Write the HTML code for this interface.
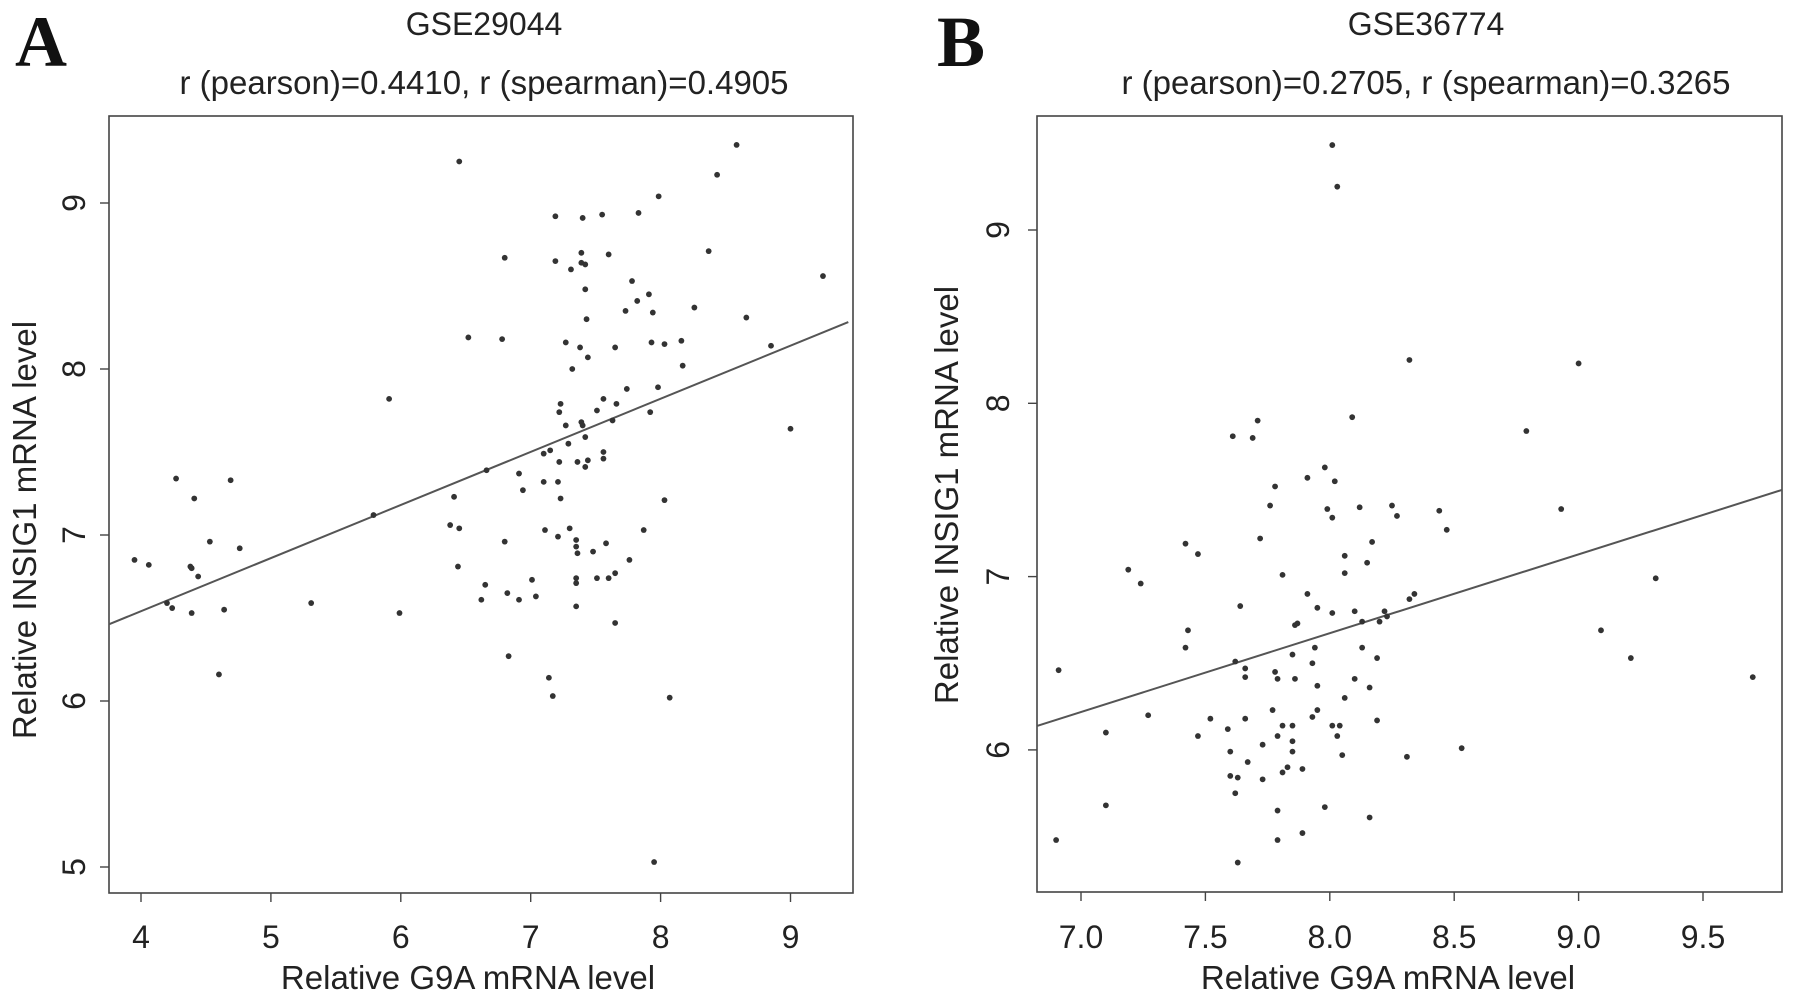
<!DOCTYPE html>
<html><head><meta charset="utf-8"><style>
html,body{margin:0;padding:0;background:#fff;}
svg{display:block;font-family:"Liberation Sans",sans-serif;}
</style></head><body>
<svg id="fig" width="1795" height="1003" viewBox="0 0 1795 1003"></svg>
<script>
// Panel A data (GSE29044)
const aX = [6.45,8.585,8.435,7.985,7.19,7.55,7.40,7.83,8.37,7.60,7.39,7.39,7.42,6.80,7.19,7.31,9.25,7.78,7.42,7.91,7.82,7.94,7.73,8.26,7.43,8.66,6.52,6.78,7.27,7.93,8.03,8.16,7.38,7.65,7.44,8.85,8.17,7.32,7.98,7.74,5.91,7.56,7.66,7.23,7.22,7.51,7.92,7.63,7.39,7.40,7.27,9.00,7.42,7.29,7.15,7.10,7.56,7.56,7.22,7.36,7.44,7.42,6.66,6.91,4.27,4.69,7.10,7.21,6.94,4.41,7.23,6.41,8.03,5.79,6.38,6.45,7.30,7.11,7.87,7.21,7.35,7.35,7.58,4.53,6.80,7.48,4.76,7.36,3.95,4.06,7.76,4.38,4.39,6.44,4.44,7.65,7.51,7.60,7.01,7.35,7.35,6.65,7.04,6.62,6.82,6.91,5.31,4.20,4.24,7.35,4.64,4.39,5.99,7.65,6.83,4.60,7.14,7.17,8.07,7.95];
const aY = [9.25,9.35,9.17,9.04,8.92,8.93,8.91,8.94,8.71,8.69,8.70,8.64,8.63,8.67,8.65,8.60,8.56,8.53,8.48,8.45,8.41,8.34,8.35,8.37,8.30,8.31,8.19,8.18,8.16,8.16,8.15,8.17,8.13,8.13,8.07,8.14,8.02,8.00,7.89,7.88,7.82,7.82,7.79,7.79,7.74,7.75,7.74,7.69,7.68,7.66,7.66,7.64,7.59,7.55,7.51,7.49,7.50,7.46,7.44,7.44,7.45,7.41,7.39,7.37,7.34,7.33,7.32,7.32,7.27,7.22,7.22,7.23,7.21,7.12,7.06,7.04,7.04,7.03,7.03,6.99,6.97,6.93,6.95,6.96,6.96,6.90,6.92,6.89,6.85,6.82,6.85,6.81,6.80,6.81,6.75,6.77,6.74,6.74,6.73,6.74,6.71,6.70,6.63,6.61,6.65,6.61,6.59,6.59,6.56,6.57,6.55,6.53,6.53,6.47,6.27,6.16,6.14,6.03,6.02,5.03];
const aXTicks = [4,5,6,7,8,9];
const aYTicks = [5,6,7,8,9];
const aFit = [[3.753,6.462],[9.445,8.283]];
// Panel B data (GSE36774)
const bX = [8.01,8.03,8.32,9.00,8.09,7.71,7.61,7.69,8.79,7.98,7.91,8.02,7.78,7.76,7.99,8.12,8.25,8.44,8.93,8.01,8.27,8.47,7.72,8.17,7.42,7.47,8.06,8.15,7.19,8.06,7.81,9.31,7.24,7.91,8.34,8.32,7.64,7.95,8.01,8.10,8.22,8.23,7.87,7.86,8.13,8.20,7.43,9.09,7.42,7.94,8.13,9.21,7.85,8.19,7.62,7.93,6.91,7.66,7.78,7.66,7.79,7.86,9.70,8.10,7.95,8.16,8.06,7.27,7.77,7.95,7.93,7.52,7.66,8.19,7.10,7.59,7.81,7.85,8.01,8.04,7.47,7.79,8.03,7.85,7.73,7.60,8.53,7.85,8.05,8.31,7.67,7.83,7.89,7.81,7.60,7.63,7.73,7.62,7.10,7.98,7.79,8.16,7.89,6.90,7.79,7.63];
const bY = [9.49,9.25,8.25,8.23,7.92,7.90,7.81,7.80,7.84,7.63,7.57,7.55,7.52,7.41,7.39,7.40,7.41,7.38,7.39,7.34,7.35,7.27,7.22,7.20,7.19,7.13,7.12,7.08,7.04,7.02,7.01,6.99,6.96,6.90,6.90,6.87,6.83,6.82,6.79,6.80,6.80,6.77,6.73,6.72,6.74,6.74,6.69,6.69,6.59,6.59,6.59,6.53,6.55,6.53,6.51,6.50,6.46,6.47,6.45,6.42,6.41,6.41,6.42,6.41,6.37,6.36,6.30,6.20,6.23,6.23,6.19,6.18,6.18,6.17,6.10,6.12,6.14,6.14,6.14,6.14,6.08,6.08,6.08,6.05,6.03,5.99,6.01,5.99,5.97,5.96,5.93,5.90,5.89,5.87,5.85,5.84,5.83,5.75,5.68,5.67,5.65,5.61,5.52,5.48,5.48,5.35];
const bXTicks = [7.0,7.5,8.0,8.5,9.0,9.5];
const bYTicks = [6,7,8,9];
const bFit = [[6.825,6.139],[9.817,7.50]];

const NS = "http://www.w3.org/2000/svg";
const svg = document.getElementById('fig');
function mk(tag, attrs, parent, text){
  const e = document.createElementNS(NS, tag);
  for (const k in attrs) e.setAttribute(k, attrs[k]);
  if (text !== undefined) e.textContent = text;
  (parent || svg).appendChild(e);
  return e;
}
function panel(cfg){
  const g = mk('g', {});
  
  
  const sx = v => cfg.x0 + (v - cfg.xv0) * cfg.xs;
  const sy = v => cfg.y0 + (cfg.yv0 - v) * cfg.ys;
  const L = mk('text', {x: cfg.letterX, y: 66, 'font-family': '"Liberation Serif",serif', 'font-weight': 'bold', 'font-size': 72, fill: '#111'}, g, cfg.letter);
  
  
  const t1 = mk('text', {x: cfg.tcx, y: 35, 'text-anchor': 'middle', 'font-size': 32, fill: '#222'}, g, cfg.title);
  
  
  const t2 = mk('text', {x: cfg.tcx, y: 94, 'text-anchor': 'middle', 'font-size': 33, fill: '#222'}, g, cfg.sub);
  
  
  const box = mk('rect', {x: cfg.bx0, y: 116, width: cfg.bx1 - cfg.bx0, height: cfg.by1 - 116, fill: 'none', stroke: '#444', 'stroke-width': 1.6}, g);
  
  
  cfg.xt.forEach(v => {
    const x = sx(v);
    mk('line', {x1: x, x2: x, y1: cfg.by1, y2: cfg.by1 + 9, stroke: '#444', 'stroke-width': 1.4}, g);
    const tl = mk('text', {x: x, y: 948, 'text-anchor': 'middle', 'font-size': 32, fill: '#222'}, g, cfg.fmt(v));
    
    
  });
  cfg.yt.forEach(v => {
    const y = sy(v);
    mk('line', {x1: cfg.bx0 - 9, x2: cfg.bx0, y1: y, y2: y, stroke: '#444', 'stroke-width': 1.4}, g);
    const tl = mk('text', {x: cfg.ytx, y: y, 'text-anchor': 'middle', 'font-size': 32, fill: '#222', transform: `rotate(-90 ${cfg.ytx} ${y})`}, g, String(v));
    
    
  });
  const xl = mk('text', {x: cfg.xlx, y: 989, 'text-anchor': 'middle', 'font-size': 33, fill: '#222'}, g, 'Relative G9A mRNA level');
  
  
  const cy = cfg.ylcy;
  const yl = mk('text', {x: cfg.ylx, y: cy, 'text-anchor': 'middle', 'font-size': 33, fill: '#222', transform: `rotate(-90 ${cfg.ylx} ${cy})`}, g, 'Relative INSIG1 mRNA level');
  
  
  const fit = mk('line', {x1: sx(cfg.fit[0][0]), y1: sy(cfg.fit[0][1]), x2: sx(cfg.fit[1][0]), y2: sy(cfg.fit[1][1]), stroke: '#555', 'stroke-width': 2}, g);
  
  
  cfg.xs_.forEach((v, i) => {
    const c = mk('circle', {cx: sx(v), cy: sy(cfg.ys_[i]), r: 2.9, fill: '#333'}, g);
    
    
  });
}
panel({name: 'panel-a-scatter', letter: 'A', letterX: 15, title: 'GSE29044', sub: 'r (pearson)=0.4410, r (spearman)=0.4905', tcx: 484,
  bx0: 109, bx1: 853, by1: 893, x0: 141, xv0: 4, xs: 129.9, y0: 203, yv0: 9, ys: 166,
  xt: aXTicks, yt: aYTicks, fmt: v => String(v), ytx: 85, ylx: 36, ylcy: 530, xlx: 468, fit: aFit, xs_: aX, ys_: aY});
panel({name: 'panel-b-scatter', letter: 'B', letterX: 937, title: 'GSE36774', sub: 'r (pearson)=0.2705, r (spearman)=0.3265', tcx: 1426,
  bx0: 1037, bx1: 1782, by1: 892, x0: 1081, xv0: 7, xs: 248.8, y0: 230, yv0: 9, ys: 173.3,
  xt: bXTicks, yt: bYTicks, fmt: v => v.toFixed(1), ytx: 1009, ylx: 958, ylcy: 495, xlx: 1388, fit: bFit, xs_: bX, ys_: bY});
</script>
</body></html>
